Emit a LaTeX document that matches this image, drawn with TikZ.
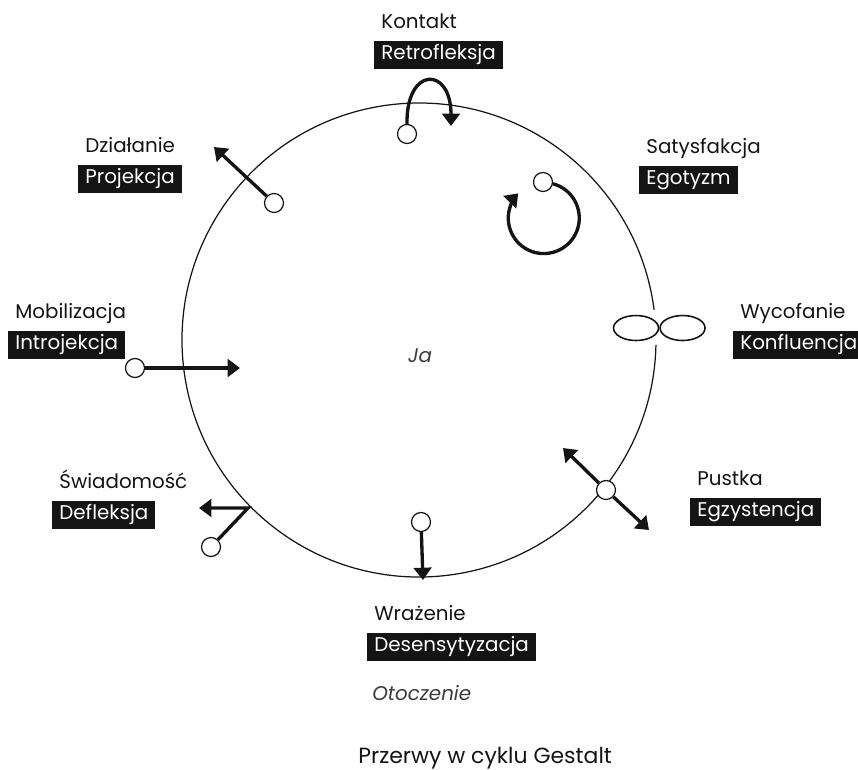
\documentclass[tikz,border=0pt]{standalone}
\usepackage{fontspec}
\setmainfont{Poppins}
\usetikzlibrary{arrows.meta,shapes.geometric}
\definecolor{GestInk}{HTML}{141414}
\definecolor{GestTag}{HTML}{141414}
\definecolor{GestMuted}{HTML}{3C3C3C}

\begin{document}
\begin{tikzpicture}[
  x=0.02cm, y=0.02cm,
  font=\fontsize{11.3}{13}\selectfont,
  stage/.style={anchor=base west, text=GestInk, inner sep=0pt},
  tag/.style={anchor=west, fill=GestTag, text=white, inner xsep=4pt, inner ysep=3pt, text height=0.76em, text depth=0.24em},
  dot/.style={circle, draw=GestInk, fill=white, line width=0.7pt, minimum size=0.38cm, inner sep=0pt},
  lobe/.style={ellipse, draw=GestInk, line width=0.9pt, minimum width=0.9cm, minimum height=0.5cm, inner sep=0pt},
  ra/.style={-{Triangle[length=7pt, width=10pt]}, draw=GestInk, line width=1.9pt},
  ring/.style={draw=GestInk, line width=0.7pt}
]
\useasboundingbox (0,0) rectangle (858,-769);
\coordinate (mid) at (419,-340);
\draw[ring] ([shift={(7.3:237)}]mid) arc[start angle=7.3, end angle=358.8, radius=237];
\foreach \nm/\lx/\ly/\stg/\brk in {
  kon/381/28/Kontakt/Retrofleksja,
  dzi/85/152/Działanie/Projekcja,
  sat/646/153/Satysfakcja/Egotyzm,
  mob/15/318/Mobilizacja/Introjekcja,
  wyc/740/318/Wycofanie/Konfluencja,
  swi/59/488/Świadomość/Defleksja,
  pus/697/485/Pustka/Egzystencja,
  wra/374/620/Wrażenie/Desensytyzacja
}{
  \node[stage] (s\nm) at (\lx,-\ly) {\stg};
  \node[tag] (b\nm) at (\lx-7,-\ly-27) {\brk};
}
\node[anchor=base, text=GestMuted, font=\fontsize{11.3}{13}\selectfont\itshape] (ja) at (420,-362) {Ja};
\node[anchor=base west, inner sep=0pt, text=GestMuted, font=\fontsize{11.3}{13}\selectfont\itshape] (oto) at (372,-700) {Otoczenie};
\node[anchor=base west, inner sep=0pt, text=GestInk, font=\fontsize{12.5}{15}\selectfont] (title) at (358,-763) {Przerwy w cyklu Gestalt};
% Retrofleksja
\node[dot] (d1) at (407,-134) {};
\coordinate (t1) at (451,-126);
\draw[ra] (d1.north) .. controls (406,-66) and (451,-66) .. (t1);
% Egotyzm
\node[dot] (d2) at (543,-182) {};
\draw[ra] (d2.-10) arc[start angle=75, end angle=-224, radius=35.5];
% Konfluencja
\node[lobe] (e1) at (636,-328) {};
\node[lobe, anchor=west] (e2) at (e1.east) {};
% Egzystencja
\node[dot] (d4) at (606,-490) {};
\coordinate (t4a) at (563,-448);
\coordinate (t4b) at (649,-530);
\draw[ra] (d4) -- (t4a);
\draw[ra] (d4) -- (t4b);
% Defleksja
\node[dot] (d5) at (211,-547) {};
\coordinate (k5) at (248,-508);
\coordinate (t5) at (199,-508);
\draw[ra] (d5) -- (k5) -- (t5);
% Desensytyzacja
\node[dot] (d6) at (421,-522) {};
\coordinate (t6) at (423,-580);
\draw[ra] (d6) -- (t6);
% Projekcja
\node[dot] (d7) at (274,-203) {};
\coordinate (t7) at (214,-147);
\draw[ra] (d7) -- (t7);
% Introjekcja
\node[dot] (d8) at (135,-368) {};
\coordinate (t8) at (240,-368);
\draw[ra] (d8) -- (t8);
\end{tikzpicture}
\end{document}
